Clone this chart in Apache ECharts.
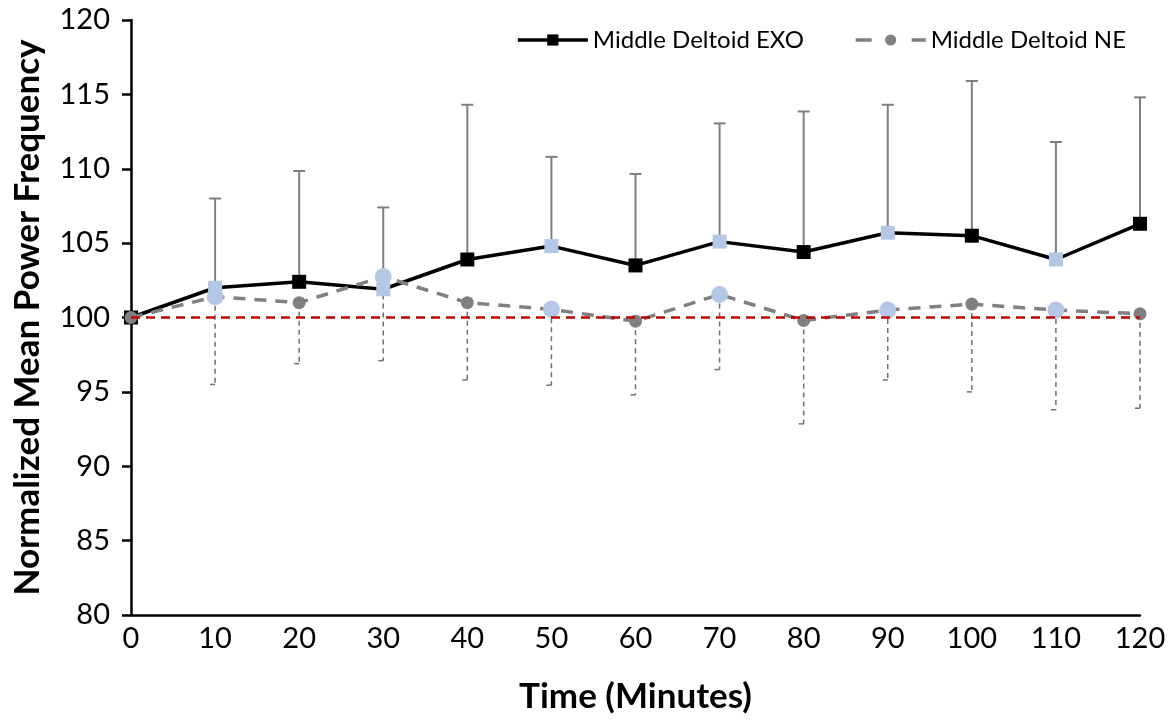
<!DOCTYPE html>
<html>
<head>
<meta charset="utf-8">
<script src="https://cdn.jsdelivr.net/npm/echarts@6/dist/echarts.min.js"></script>
<style>
html,body{margin:0;padding:0;background:#fff;}
#chart{width:1173px;height:725px;}
</style>
</head>
<body>
<div id="chart"></div>
<script>
// ---- data ----
var times = [0, 10, 20, 30, 40, 50, 60, 70, 80, 90, 100, 110, 120];
var exoMean = [100, 102.0, 102.4, 101.9, 103.9, 104.8, 103.5, 105.1, 104.4, 105.7, 105.5, 103.9, 106.3];
var exoUpper = [100, 108.0, 109.85, 107.4, 114.3, 110.8, 109.65, 113.05, 113.85, 114.3, 115.9, 111.8, 114.8];
var neMean = [100, 101.4, 101.0, 102.75, 101.0, 100.55, 99.75, 101.55, 99.8, 100.5, 100.9, 100.5, 100.25];
var neLower = [100, 95.5, 96.9, 97.1, 95.8, 95.45, 94.8, 96.5, 92.85, 95.8, 95.0, 93.8, 93.9];
var baselineValue = 100;
var yTicks = [80, 85, 90, 95, 100, 105, 110, 115, 120];

var LIGHT = '#b4c7e7';
var FONT = 'Lato, "Open Sans", sans-serif';

function pts(vals, baseColor) {
  return times.map(function (t, i) {
    return {
      value: [t, vals[i]],
      itemStyle: { color: (i % 2 === 1) ? LIGHT : baseColor }
    };
  });
}

function errData(means, ends) {
  return times.map(function (t, i) { return [t, means[i], ends[i]]; });
}

function errRender(solid, fullCap) {
  return function (params, api) {
    var x = api.value(0);
    var a = api.coord([x, api.value(1)]);
    var b = api.coord([x, api.value(2)]);
    if (Math.abs(a[1] - b[1]) < 1) return null;
    var style = solid
      ? { stroke: '#7f7f7f', lineWidth: 2 }
      : { stroke: '#6f6f6f', lineWidth: 1.5, lineDash: [5, 4] };
    var capStyle = { stroke: style.stroke, lineWidth: style.lineWidth };
    return {
      type: 'group',
      children: [
        { type: 'line', shape: { x1: a[0], y1: a[1], x2: b[0], y2: b[1] }, style: style },
        { type: 'line', shape: fullCap
            ? { x1: b[0] - 6, y1: b[1], x2: b[0] + 6, y2: b[1] }
            : { x1: b[0] - 5, y1: b[1], x2: b[0], y2: b[1] }, style: capStyle }
      ]
    };
  };
}

var chart = echarts.init(document.getElementById('chart'));
chart.setOption({
  animation: false,
  backgroundColor: '#fff',
  grid: { left: 131, right: 33, top: 20, bottom: 110, containLabel: false },
  legend: {
    data: [
      { name: 'Middle Deltoid EXO', lineStyle: { width: 3.5 } },
      { name: 'Middle Deltoid NE', lineStyle: { width: 3.5, type: [16, 40] } }
    ],
    top: 23,
    right: 42,
    itemWidth: 70,
    itemHeight: 14,
    itemGap: 50,
    textStyle: { fontFamily: FONT, fontSize: 24, color: '#000' }
  },
  xAxis: {
    type: 'value',
    min: 0, max: 120, interval: 10,
    name: 'Time (Minutes)',
    nameLocation: 'middle',
    nameGap: 64,
    nameTextStyle: { fontFamily: FONT, fontSize: 35, fontWeight: 'bold', color: '#000' },
    axisLine: { show: true, onZero: false, lineStyle: { color: '#000', width: 2.5 } },
    axisTick: { show: false },
    splitLine: { show: false },
    axisLabel: { margin: 9, fontFamily: FONT, fontSize: 29, color: '#000' }
  },
  yAxis: {
    type: 'value',
    min: 80, max: 120, interval: 5,
    name: 'Normalized Mean Power Frequency',
    nameLocation: 'middle',
    nameGap: 86,
    nameTextStyle: { fontFamily: FONT, fontSize: 35, fontWeight: 'bold', color: '#000' },
    axisLine: { show: true, lineStyle: { color: '#000', width: 2.5 } },
    axisTick: { show: true, inside: false, length: 9, lineStyle: { color: '#000', width: 2.5 } },
    splitLine: { show: false },
    axisLabel: {
      margin: 21, fontFamily: FONT, fontSize: 29, color: '#000',
      formatter: function (v) { return yTicks.indexOf(v) >= 0 ? String(v) : ''; }
    }
  },
  series: [
    {
      type: 'custom',
      name: 'exoErr',
      silent: true,
      z: 1,
      renderItem: errRender(true, true),
      data: errData(exoMean, exoUpper),
      encode: { x: 0, y: [1, 2] }
    },
    {
      type: 'custom',
      name: 'neErr',
      silent: true,
      z: 1,
      renderItem: errRender(false, false),
      data: errData(neMean, neLower),
      encode: { x: 0, y: [1, 2] }
    },
    {
      type: 'line',
      name: 'Middle Deltoid EXO',
      z: 3,
      symbol: 'rect',
      symbolSize: 14,
      showAllSymbol: true,
      color: '#000',
      itemStyle: { color: '#000' },
      lineStyle: { color: '#000', width: 3.5 },
      data: pts(exoMean, '#000')
    },
    {
      type: 'line',
      name: 'Middle Deltoid NE',
      z: 4,
      symbol: 'circle',
      symbolSize: 13,
      showAllSymbol: true,
      color: '#808080',
      itemStyle: { color: '#808080' },
      lineStyle: { color: '#808080', width: 3.5, type: [12, 9] },
      data: times.map(function (t, i) {
        return {
          value: [t, neMean[i]],
          symbolSize: (i % 2 === 1) ? 17 : 13,
          itemStyle: { color: (i % 2 === 1) ? LIGHT : '#808080' }
        };
      })
    },
    {
      type: 'line',
      name: 'baseline',
      z: 5,
      silent: true,
      symbol: 'none',
      lineStyle: { color: '#c00000', width: 2.5, type: [9, 6] },
      data: [[times[0], baselineValue], [times[times.length - 1], baselineValue]]
    }
  ]
});
</script>
</body>
</html>
